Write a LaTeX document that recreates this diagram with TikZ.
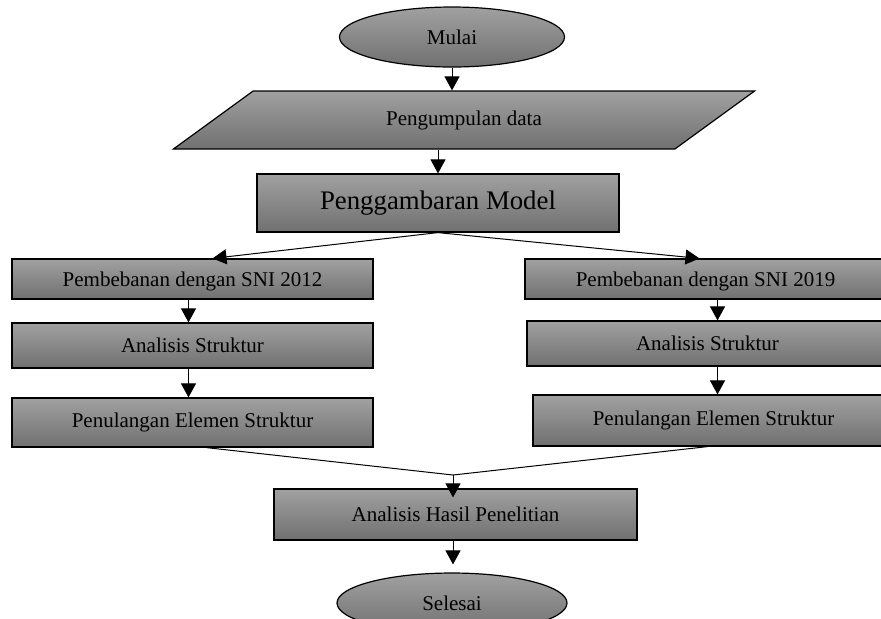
\documentclass[tikz,border=0pt]{standalone}
\usepackage{fontspec}
\setmainfont{Liberation Serif}
\usetikzlibrary{positioning, shapes.geometric, arrows.meta, calc}

\begin{document}
\begin{tikzpicture}[x=0.5pt, y=-0.5pt,
% Define custom styles for the flowchart
    greybox/.style={
        draw,
        rectangle,
        line width=0.6pt,
        top color=black!37,
        bottom color=black!56,
        inner sep=0pt,
        font=\fontsize{10.5pt}{12pt}\selectfont
        },
    termbox/.style={
        greybox,
        ellipse
        },
    flow/.style={->, >={Triangle[length=7pt,width=7.5pt]}, line width=0.5pt}
]
\useasboundingbox (0,0) rectangle (881,618);

\node[termbox, minimum width=112.5pt, minimum height=30pt] (mulai) at (452,37) {Mulai};
\node[greybox, trapezium, trapezium left angle=33, trapezium right angle=147,
      trapezium stretches=true, minimum width=291pt, minimum height=29pt] (data) at (464,120) {Pengumpulan data};
\node[greybox, minimum width=181pt, minimum height=29pt,
      font=\fontsize{13.4pt}{15pt}\selectfont] (model) at (438,203) {Penggambaran Model};

% left column
\node[greybox, minimum width=180.5pt, minimum height=20pt, text depth=0pt] (beban12) at (192.5,279) {Pembebanan dengan SNI 2012};
\node[greybox, minimum width=180.5pt, minimum height=22.5pt] (analisis12) at (192.5,345.5) {Analisis Struktur};
\node[greybox, minimum width=180.5pt, minimum height=24.5pt] (tulangan12) at (192.5,422.5) {Penulangan Elemen Struktur};

% right column
\node[greybox, minimum width=180.5pt, minimum height=20pt, text depth=0pt] (beban19) at (705.5,279) {Pembebanan dengan SNI 2019};
\node[greybox, minimum width=180.5pt, minimum height=22.5pt] (analisis19) at (707.5,343.5) {Analisis Struktur};
\node[greybox, minimum width=180.5pt, minimum height=25.5pt] (tulangan19) at (713.5,420.5) {Penulangan Elemen Struktur};

\node[greybox, minimum width=181.5pt, minimum height=25.5pt] (hasil) at (455.5,514.5) {Analisis Hasil Penelitian};
\node[termbox, minimum width=115pt, minimum height=30pt] (selesai) at (452,603) {Selesai};

\coordinate (gabung) at (453,475);

\draw[flow] (mulai.south) -- (mulai.south |- data.north);
\draw[flow] (model |- data.south) -- (model.north);
\draw[flow] (model.south) -- ([xshift=10pt]beban12.north);
\draw[flow] (model.south) -- ([xshift=-3pt]beban19.north);

\draw[flow] ([xshift=-2pt]beban12.south) -- ([xshift=-2pt]beban12.south |- analisis12.north);
\draw[flow] ([xshift=-2pt]analisis12.south) -- ([xshift=-2pt]analisis12.south |- tulangan12.north);
\draw[flow] ([xshift=6pt]beban19.south) -- ([xshift=6pt]beban19.south |- analisis19.north);
\draw[flow] ([xshift=5pt]analisis19.south) -- ([xshift=5pt]analisis19.south |- tulangan19.north);

\draw[line width=0.5pt] ([xshift=7pt]tulangan12.south) -- (gabung);
\draw[line width=0.5pt] ([xshift=-3pt]tulangan19.south) -- (gabung);
\draw[flow] (gabung) -- ([yshift=-4.5pt]gabung |- hasil.north);
\draw[flow] (hasil.south -| gabung) -- ([yshift=4pt]gabung |- selesai.north);

\end{tikzpicture}
\end{document}
